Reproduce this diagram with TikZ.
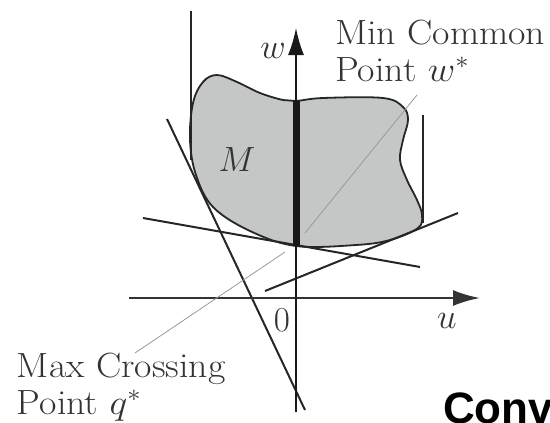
\RequirePackage{fix-cm}
\documentclass[tikz,border=0pt]{standalone}
\usepackage{graphicx}
\usepackage{fontspec}
\newfontfamily\titlefont{Liberation Sans}
\usetikzlibrary{arrows.meta}
\definecolor{setgray}{RGB}{196,199,198}
\newcommand{\wide}[1]{\scalebox{1.08}[1]{#1}}

\begin{document}
\begin{tikzpicture}[x=1pt, y=-1pt,
    axis/.style={-{Latex[length=27pt, width=16pt]}, line width=2.4pt, black!80},
    waxis/.style={-{Latex[length=27pt, width=16pt]}, line width=1.8pt, black!90},
    hyper/.style={line width=2pt, black!85},
    leader/.style={line width=0.8pt, black!40},
    lbl/.style={font=\fontsize{35}{37}\selectfont, text=black!80, inner sep=0pt, align=left},
]
    \useasboundingbox (0,0) rectangle (550,423);

    % Key points
    \coordinate (origin) at (296,298);
    \coordinate (wstar) at (296,246);
    \coordinate (wtop) at (296,101);

    % The set M
    \draw [line width=1.8pt, black!85, fill=setgray] plot [smooth cycle, tension=0.6] coordinates {
        (296,246) (250,231) (213,207) (196,175) (190,140) (193,103) (203,82) (217,75)
        (237,82) (260,93) (283,100) (296,101) (323,98) (383,98) (403,107) (408,120)
        (403,140) (400,160) (407,180) (417,200) (422,215) (418,228) (390,240) (356,245)};
    \node [lbl, anchor=base] (mset) at (237,171.7) {$M$};

    % Vertical lines
    \coordinate (vl1) at (191,11);  \coordinate (vl2) at (191,160);
    \coordinate (vr1) at (423,115); \coordinate (vr2) at (423,223);
    \draw [hyper] (vl1) -- (vl2);
    \draw [hyper] (vr1) -- (vr2);

    % Hyperplanes
    \coordinate (h1a) at (143,218); \coordinate (h1b) at (420,267);
    \coordinate (h2a) at (265,291); \coordinate (h2b) at (458,213);
    \coordinate (h3a) at (167,119); \coordinate (h3b) at (305,410);
    \draw [hyper] (h1a) -- (h1b);
    \draw [hyper] (h2a) -- (h2b);
    \draw [hyper] (h3a) -- (h3b);

    % Axes
    \coordinate (uleft) at (129,298); \coordinate (utip) at (480,298);
    \coordinate (wbot) at (296,412);  \coordinate (wtip) at (296,28);
    \draw [axis] (uleft) -- (utip);
    \draw [waxis] (wbot) -- (wtip);
    \draw [line width=7pt, black!90] (wtop) -- (wstar);

    \node [lbl, anchor=base] (ulabel) at (447,328) {$u$};
    \node [lbl, anchor=base] (wlabel) at (273,58) {$w$};
    \node [lbl, anchor=base] (zero) at (282,331.7) {$0$};

    % Labels and leaders
    \node [lbl, anchor=base west] (mincommon) at (335,81.7) {\wide{Min Common}\\\wide{Point $w^*$}};
    \node [lbl, anchor=base west] (maxcross) at (16.7,414) {\wide{Max Crossing}\\\wide{Point $q^*$}};
    \coordinate (minlead) at (417,95);  \coordinate (minpt) at (305,233);
    \coordinate (maxlead) at (135,353); \coordinate (maxpt) at (285,252);
    \draw [leader] (minpt) -- (minlead);
    \draw [leader] (maxlead) -- (maxpt);

    % Cut-off title
    \node [anchor=base west, inner sep=0pt, font=\titlefont\fontsize{44}{44}\bfseries\selectfont] (title) at (443,423) {Conv};
\end{tikzpicture}
\end{document}
